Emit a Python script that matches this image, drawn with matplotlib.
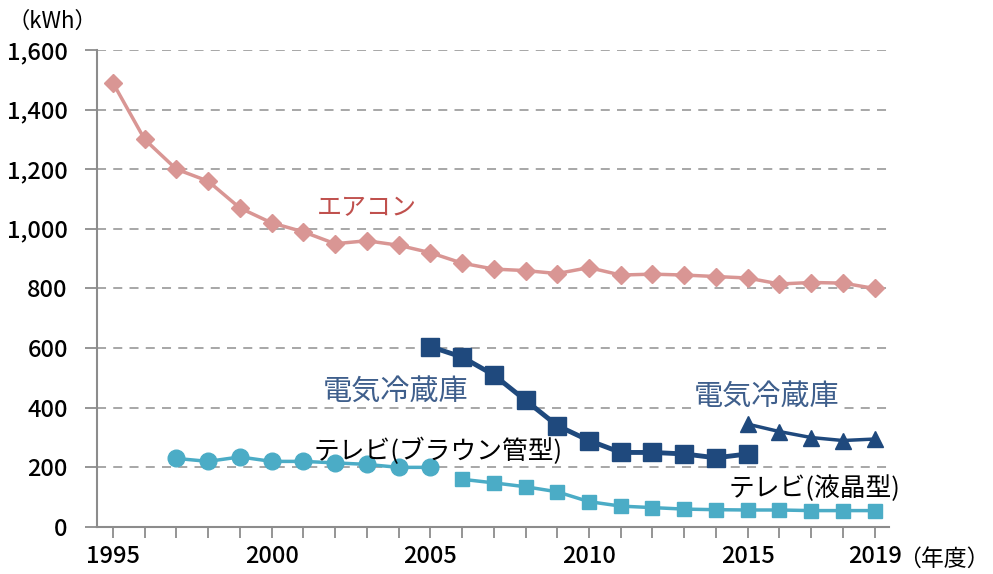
import matplotlib.pyplot as plt
from matplotlib.ticker import MultipleLocator, FuncFormatter

plt.rcParams['font.family'] = ['Noto Sans CJK JP', 'DejaVu Sans']

# Annual electricity consumption per appliance (kWh)
aircon_years = list(range(1995, 2020))
aircon_kwh = [1490, 1300, 1200, 1160, 1070, 1020, 990, 950, 960, 945, 920, 885, 865,
              860, 850, 870, 845, 848, 845, 840, 835, 815, 820, 818, 800]

fridge_old_years = list(range(2005, 2016))
fridge_old_kwh = [605, 570, 510, 425, 340, 290, 250, 250, 245, 232, 245]

fridge_new_years = list(range(2015, 2020))
fridge_new_kwh = [345, 320, 300, 290, 295]

tv_crt_years = list(range(1997, 2006))
tv_crt_kwh = [230, 220, 235, 220, 220, 215, 210, 200, 200]

tv_lcd_years = list(range(2006, 2020))
tv_lcd_kwh = [160, 148, 135, 118, 85, 70, 65, 60, 58, 57, 57, 55, 55, 55]

year_ticks = [1995, 2000, 2005, 2010, 2015, 2019]

pink = '#d99694'
navy = '#1f497d'
cyan = '#4bacc6'
axis_gray = '#8c8c8c'

fig = plt.figure(figsize=(9.93, 5.74), dpi=100)
ax = fig.add_axes([0.0977, 0.0819, 0.7975, 0.8311])

ax.plot(aircon_years, aircon_kwh, color=pink, lw=2.5, marker='D', ms=9, zorder=3)
ax.plot(fridge_old_years, fridge_old_kwh, color=navy, lw=3.5, marker='s', ms=13, zorder=3)
ax.plot(fridge_new_years, fridge_new_kwh, color=navy, lw=2.5, marker='^', ms=12, zorder=3)
ax.plot(tv_crt_years, tv_crt_kwh, color=cyan, lw=2.5, marker='o', ms=12, zorder=3)
ax.plot(tv_lcd_years, tv_lcd_kwh, color=cyan, lw=2.5, marker='s', ms=10, zorder=3)

ax.set_xlim(1994.5, 2019.45)
ax.set_ylim(0, 1600)
ax.yaxis.set_major_locator(MultipleLocator(200))
ax.yaxis.set_major_formatter(FuncFormatter(lambda v, p: f'{int(v):,}'))
ax.set_xticks(year_ticks)
ax.xaxis.set_minor_locator(MultipleLocator(1))

ax.grid(axis='y', color='#a0a0a0', linestyle=(0, (5, 4)), lw=1.3, zorder=1)
ax.set_axisbelow(True)
for side in ['top', 'right']:
    ax.spines[side].set_visible(False)
for side in ['left', 'bottom']:
    ax.spines[side].set_color(axis_gray)
    ax.spines[side].set_linewidth(1.5)

ax.tick_params(axis='y', direction='out', length=9, color=axis_gray, width=1.3,
               labelsize=17, pad=12)
ax.tick_params(axis='x', which='both', direction='out', length=8, color=axis_gray,
               width=1.3, labelsize=17, pad=5)
for lbl in ax.get_xticklabels() + ax.get_yticklabels():
    lbl.set_fontweight('medium')

ax.text(2003.0, 1070, 'エアコン', color='#c0504d', fontsize=18, ha='center', va='center')
ax.text(2003.9, 455, '電気冷蔵庫', color='#3f5f8c', fontsize=21, ha='center', va='center',
        bbox=dict(facecolor='white', edgecolor='none', pad=0.5), zorder=2)
ax.text(2015.6, 435, '電気冷蔵庫', color='#3f5f8c', fontsize=21, ha='center', va='center',
        bbox=dict(facecolor='white', edgecolor='none', pad=0.5), zorder=2)
ax.text(2005.25, 255, 'テレビ(ブラウン管型)', color='black', fontsize=18.5, ha='center',
        va='center', zorder=4)
ax.text(2017.1, 130, 'テレビ(液晶型)', color='black', fontsize=18.5, ha='center',
        va='center', zorder=4)

fig.text(0.053, 0.962, '（kWh）', fontsize=16, ha='center', va='center')
fig.text(0.950, 0.026, '（年度）', fontsize=16.5, ha='center', va='center')

fig.savefig('out.png', dpi=100)
